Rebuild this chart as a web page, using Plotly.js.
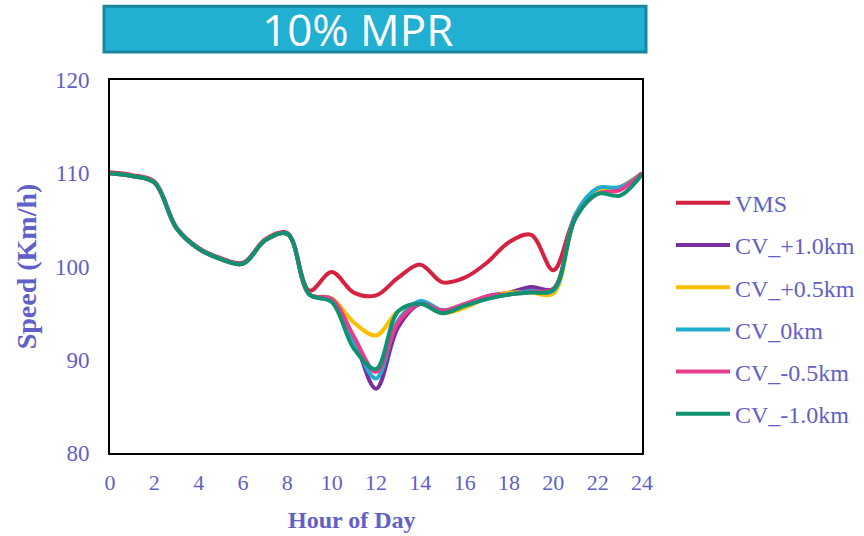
<!DOCTYPE html>
<html>
<head>
<meta charset="utf-8">
<script src="https://cdn.plot.ly/plotly-3.0.1.min.js"></script>
<style>html,body{margin:0;padding:0;background:#fff;}#chart{width:864px;height:536px;}</style>
</head>
<body>
<div id="chart"></div>
<script>
const hours = [0,1,2,3,4,5,6,7,8,9,10,11,12,13,14,15,16,17,18,19,20,21,22,23,24];
const seriesNames = ["VMS","CV_+1.0km","CV_+0.5km","CV_0km","CV_-0.5km","CV_-1.0km"];
const seriesColors = ["#D42240","#7A2E9E","#FFBE00","#1FADD0","#E83C8C","#0E9272"];
const vms      = [110.1,109.8,109.1,104.2,102.0,100.9,100.4,102.9,103.6,97.4,99.4,97.2,96.9,98.8,100.2,98.3,98.8,100.4,102.6,103.4,99.6,105.4,107.9,108.5,110.0];
const cvP10    = [110.0,109.7,109.0,104.1,101.9,100.8,100.3,102.8,103.5,97.0,96.5,92.3,86.9,93.5,96.0,95.2,95.8,96.8,97.2,97.8,97.6,105.2,107.9,108.3,110.0];
const cvP05    = [110.0,109.7,109.0,104.1,101.9,100.8,100.3,102.8,103.5,97.0,96.6,94.0,92.6,95.2,96.0,95.0,95.6,96.6,97.2,97.2,97.1,105.3,108.0,108.5,110.0];
const cv0      = [110.0,109.7,109.0,104.1,101.9,100.8,100.3,102.8,103.5,97.0,96.5,92.0,88.0,94.2,96.3,95.3,95.8,96.6,97.0,97.4,97.4,105.6,108.4,108.5,110.0];
const cvM05    = [110.0,109.7,109.0,104.1,101.9,100.8,100.3,102.8,103.5,97.0,96.5,92.5,88.7,94.0,96.0,95.3,96.0,96.8,97.0,97.3,97.6,105.3,107.8,108.2,110.0];
const cvM10    = [110.0,109.7,109.0,104.1,101.9,100.8,100.3,102.8,103.5,97.0,96.2,91.2,89.0,95.2,96.0,95.0,95.8,96.5,97.0,97.2,97.5,105.2,107.8,107.6,109.9];
const allSeries = [vms,cvP10,cvP05,cv0,cvM05,cvM10];
const xTicks = [0,2,4,6,8,10,12,14,16,18,20,22,24];
const yTicks = [80,90,100,110,120];
const chartTitle = "10% MPR";
const xTitle = "Hour of Day";
const yTitle = "Speed (Km/h)";

const textColor = "#6060C8";
const serif = "Liberation Serif, Times New Roman, serif";

const traces = allSeries.map((ys,i)=>({
  x: hours, y: ys, name: seriesNames[i], type:"scatter", mode:"lines",
  line:{color:seriesColors[i], width:4, shape:"spline", smoothing:1},
  legendgroup:"g"+i
}));
const layout = {
  width:864, height:536,
  margin:{l:110, r:222, t:80, b:83, autoexpand:false},
  paper_bgcolor:"#fff", plot_bgcolor:"#fff",
  showlegend:true,
  legend:{x:1.0545, xanchor:"left", y:0.73, yanchor:"top", font:{family:serif, size:24, color:textColor},
    tracegroupgap:8, itemwidth:54, bgcolor:"rgba(0,0,0,0)"},
  xaxis:{range:[0,24], tickvals:xTicks, ticktext:xTicks.map(String), showgrid:false, zeroline:false,
    showline:true, linecolor:"#000", linewidth:2, mirror:true,
    ticks:"outside", ticklen:9, tickcolor:"rgba(0,0,0,0)",
    tickfont:{family:serif, size:22, color:textColor}},
  yaxis:{range:[80,120], tickvals:yTicks, showgrid:false, zeroline:false,
    showline:true, linecolor:"#000", linewidth:2, mirror:true,
    ticks:"outside", ticklen:14, tickcolor:"rgba(0,0,0,0)",
    tickfont:{family:serif, size:23, color:textColor},
    title:{text:"<b>"+yTitle+"</b>", font:{family:serif, size:28, color:textColor}, standoff:10}},
  shapes:[{type:"rect", xref:"paper", yref:"paper", x0:-0.0113, x1:1.0075, y0:1.075, y1:1.198,
    fillcolor:"#21AFD2", line:{color:"#1A869F", width:3}, layer:"above"}],
  annotations:[
    {text:chartTitle, xref:"paper", yref:"paper", x:0.466, y:1.137, xanchor:"center", yanchor:"middle",
     showarrow:false, font:{family:"Open Sans, sans-serif", size:44, color:"#fff"}},
    {text:"<b>"+xTitle+"</b>", xref:"paper", yref:"paper", x:0.455, y:-0.18, xanchor:"center", yanchor:"middle",
     showarrow:false, font:{family:serif, size:24, color:textColor}}
  ]
};
Plotly.newPlot("chart", traces, layout, {displayModeBar:false, staticPlot:true});
</script>
</body>
</html>
